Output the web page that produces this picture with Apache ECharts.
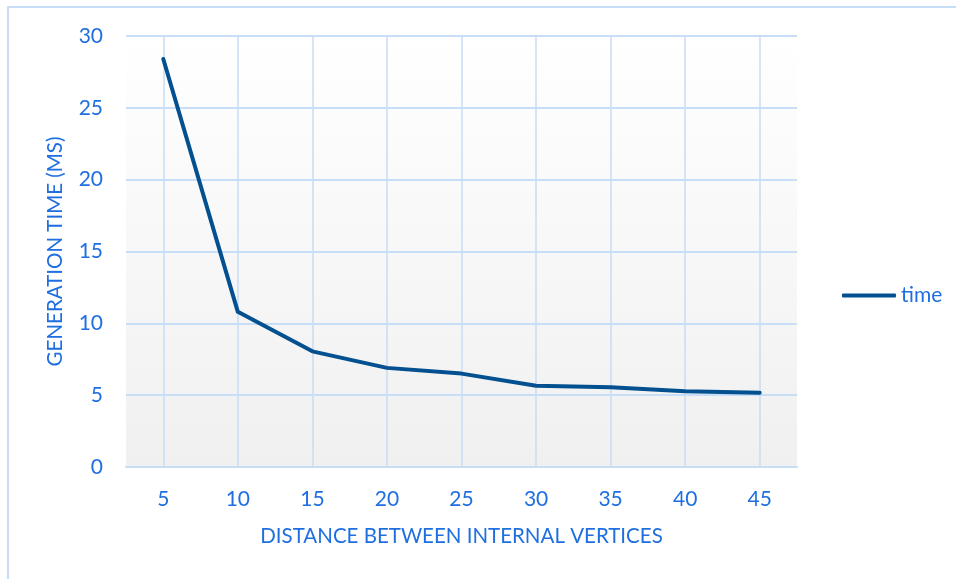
<!DOCTYPE html>
<html>
<head>
<meta charset="utf-8">
<script src="https://cdn.jsdelivr.net/npm/echarts@6/dist/echarts.min.js"></script>
<style>
  html, body { margin: 0; padding: 0; background: #fff; }
  #chart { width: 956px; height: 579px; }
</style>
</head>
<body>
<div id="chart"></div>
<script>
var distances = ['5', '10', '15', '20', '25', '30', '35', '40', '45'];
var timeValues = [28.4, 10.8, 8.05, 6.9, 6.5, 5.65, 5.55, 5.28, 5.17];
var yTicks = { min: 0, max: 30, interval: 5 };

var textBlue = '#1f6fe0';
var gridBlue = '#c8ddf6';
var lineBlue = '#02508f';

var myChart = echarts.init(document.getElementById('chart'));

var option = {
    backgroundColor: '#ffffff',
    textStyle: { fontFamily: 'Lato' },
    graphic: [{
        type: 'rect',
        shape: { x: 8, y: 7, width: 1000, height: 1000 },
        style: { fill: 'none', stroke: gridBlue, lineWidth: 2 },
        silent: true
    }],
    grid: {
        left: 126, right: 159, top: 36, bottom: 112,
        show: true,
        borderWidth: 0,
        backgroundColor: {
            type: 'linear', x: 0, y: 0, x2: 0, y2: 1,
            colorStops: [
                { offset: 0, color: '#ffffff' },
                { offset: 1, color: '#f0f0f0' }
            ]
        }
    },
    legend: {
        data: [{ name: 'time', icon: 'roundRect' }],
        left: 837, top: 280,
        itemWidth: 54, itemHeight: 4, itemGap: 4,
        textStyle: { color: textBlue, fontSize: 21, fontFamily: 'Lato' }
    },
    xAxis: {
        type: 'category',
        data: distances,
        boundaryGap: true,
        name: 'DISTANCE BETWEEN INTERNAL VERTICES',
        nameLocation: 'middle',
        nameGap: 59,
        nameTextStyle: { color: textBlue, fontSize: 20.5, fontFamily: 'Lato' },
        axisLine: { lineStyle: { color: gridBlue, width: 2 } },
        // vertical grid lines sit on the categories, so draw them as long inside ticks
        axisTick: {
            show: true, alignWithLabel: true, inside: true, length: 431,
            lineStyle: { color: gridBlue, width: 1.5 }
        },
        axisLabel: { color: textBlue, fontSize: 21, margin: 22 },
        splitLine: { show: false }
    },
    yAxis: {
        type: 'value',
        min: yTicks.min, max: yTicks.max, interval: yTicks.interval,
        name: 'GENERATION TIME (MS)',
        nameLocation: 'middle',
        nameGap: 60,
        nameTextStyle: { color: textBlue, fontSize: 20.5, fontFamily: 'Lato' },
        axisLine: { show: false },
        axisTick: { show: false },
        axisLabel: { color: textBlue, fontSize: 21, margin: 23 },
        splitLine: { lineStyle: { color: gridBlue, width: 2 } }
    },
    series: [{
        name: 'time',
        type: 'line',
        data: timeValues,
        symbol: 'none',
        lineStyle: { color: lineBlue, width: 4, cap: 'round', join: 'round' },
        itemStyle: { color: lineBlue },
        animation: false
    }]
};

myChart.setOption(option);
</script>
</body>
</html>
